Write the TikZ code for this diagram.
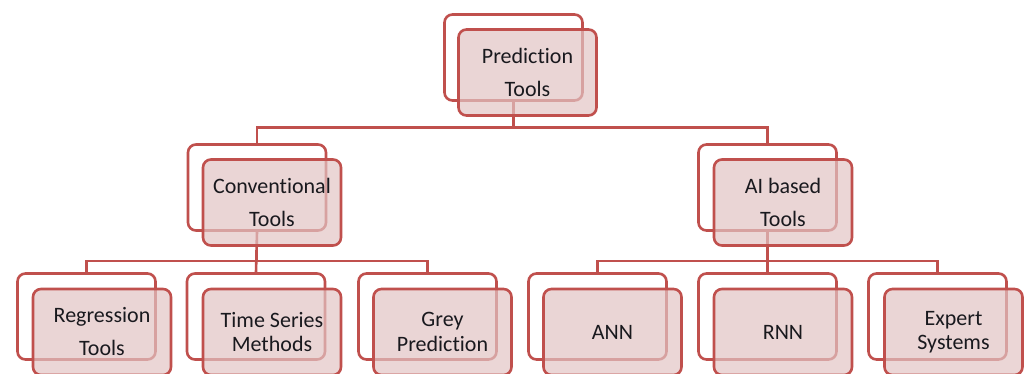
\documentclass[tikz,border=0pt]{standalone}
\usepackage{fontspec}
\setmainfont{Carlito}[Ligatures={NoCommon}]
\definecolor{bd}{RGB}{192,80,77}
\definecolor{fl}{RGB}{226,196,196}
\definecolor{tx}{RGB}{25,25,30}
\tikzset{
 backbox/.style={draw=bd, line width=2.6pt, fill=white, rounded corners=8pt, minimum width=138pt, minimum height=86pt, inner sep=0pt},
 frontbox/.style={draw=bd, line width=2.6pt, fill=fl, fill opacity=0.7, text opacity=1, rounded corners=8pt, minimum width=138pt, minimum height=86pt, inner sep=0pt, align=center, text=tx},
 wide/.style={font=\fontsize{22}{33}\selectfont},
 tight/.style={font=\fontsize{22}{24.5}\selectfont},
 conn/.style={draw=bd, line width=2.6pt}
}
\begin{document}
\begin{tikzpicture}[x=1pt,y=-1pt]
\useasboundingbox (0,0) rectangle (1027,374);
\clip (0,0) rectangle (1027,374);
% back boxes
\node[backbox] (b0) at (513.5,57.5) {};
\node[backbox] (b1) at (257,187.5) {};
\node[backbox] (b2) at (767.5,187.5) {};
\node[backbox] (b11) at (86.5,316.5) {};
\node[backbox] (b12) at (256,316.5) {};
\node[backbox] (b13) at (427.5,316.5) {};
\node[backbox] (b21) at (597.5,316.5) {};
\node[backbox] (b22) at (767.5,316.5) {};
\node[backbox] (b23) at (937.5,316.5) {};
% connectors
\draw[conn] (b0.south) -- ++(0,26) -| (b1.north);
\draw[conn] (b0.south) -- ++(0,26) -| (b2.north);
\draw[conn] (b1.south) -- ++(0,29) -| (b11.north);
\draw[conn] (b1.south) -- (b12.north);
\draw[conn] (b1.south) -- ++(0,29) -| (b13.north);
\draw[conn] (b2.south) -- ++(0,29) -| (b21.north);
\draw[conn] (b2.south) -- (b22.north);
\draw[conn] (b2.south) -- ++(0,29) -| (b23.north);
% front boxes
\node[frontbox, wide] (f0) at (527.5,72.5) {Prediction\\Tools};
\node[frontbox, wide] (f1) at (272,202.5) {Conventional\\Tools};
\node[frontbox, wide] (f2) at (783,202.5) {AI based\\Tools};
\node[frontbox, wide] (f11) at (102,332) {Regression\\Tools};
\node[frontbox, tight] (f12) at (272,332) {Time Series\\Methods};
\node[frontbox, tight] (f13) at (442.5,332) {Grey\\Prediction};
\node[frontbox, wide] (f21) at (612.5,332) {ANN};
\node[frontbox, wide] (f22) at (783,332) {RNN};
\node[frontbox, tight] (f23) at (953.5,332) {Expert\\Systems};
\end{tikzpicture}
\end{document}
